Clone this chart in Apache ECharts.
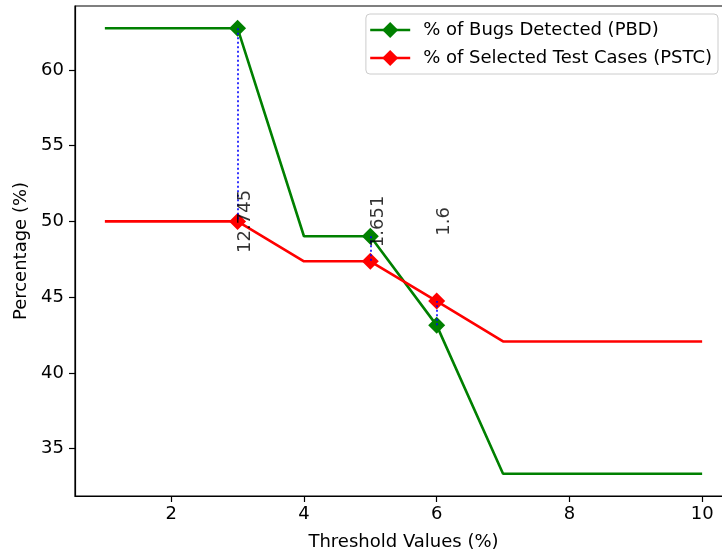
<!DOCTYPE html>
<html>
<head>
<meta charset="utf-8">
<script src="https://cdn.jsdelivr.net/npm/echarts@6/dist/echarts.min.js"></script>
<style>
  html, body { margin: 0; padding: 0; background: #ffffff; width: 722px; height: 556px; overflow: hidden; }
  #chart { width: 742px; height: 556px; }
</style>
</head>
<body>
<div id="chart"></div>
<script>
// Threshold values on the x axis
const thresholds = [1, 2, 3, 4, 5, 6, 7, 8, 9, 10];
// % of bugs detected (PBD)
const pbdValues = [62.745, 62.745, 62.745, 49.021, 49.021, 43.14, 33.35, 33.35, 33.35, 33.35];
// % of selected test cases (PSTC)
const pstcValues = [50, 50, 50, 47.37, 47.37, 44.74, 42.08, 42.08, 42.08, 42.08];
// thresholds that carry a marker and a gap annotation
const markedThresholds = [3, 5, 6];
// tick labels
const xTicks = [2, 4, 6, 8, 10];
const yTicks = [35, 40, 45, 50, 55, 60];
// height at which the gap annotations are centred
const annotY = 50;

const FONT = 'DejaVu Sans';
const FS = 18;

function seriesData(values) {
  return thresholds.map((x, i) => {
    const item = { value: [x, values[i]] };
    if (!markedThresholds.includes(x)) item.symbol = 'none';
    return item;
  });
}

const gapLines = markedThresholds.map(x => {
  const i = thresholds.indexOf(x);
  return [{ coord: [x, pbdValues[i]] }, { coord: [x, pstcValues[i]] }];
});

const gapLabels = markedThresholds.map(x => {
  const i = thresholds.indexOf(x);
  const d = Math.abs(pbdValues[i] - pstcValues[i]);
  return { value: [x, annotY], text: String(parseFloat(d.toFixed(3))) };
});

// axis ranges with 5% padding around the data
const allY = pbdValues.concat(pstcValues);
const yLo = Math.min(...allY), yHi = Math.max(...allY);
const yPad = (yHi - yLo) * 0.05;
const xLo = thresholds[0], xHi = thresholds[thresholds.length - 1];
const xPad = (xHi - xLo) * 0.05;

const chart = echarts.init(document.getElementById('chart'), null, { renderer: 'canvas' });

const axisLineStyle = { color: '#000000', width: 1.2 };

chart.setOption({
  animation: false,
  backgroundColor: '#ffffff',
  textStyle: { fontFamily: FONT },
  grid: {
    left: 75, right: 10, top: 6, bottom: 60,
    show: true, borderColor: '#000000', borderWidth: 1.2,
    backgroundColor: 'transparent'
  },
  legend: {
    right: 24, top: 14,
    orient: 'vertical',
    align: 'left',
    itemWidth: 40, itemHeight: 20, itemGap: 10,
    padding: [7, 6, 7, 3],
    backgroundColor: 'rgba(255,255,255,0.8)',
    borderColor: '#cccccc', borderWidth: 1, borderRadius: 4,
    lineStyle: { width: 2.6 },
    textStyle: { fontFamily: FONT, fontSize: FS, color: '#000000', padding: [0, 0, 0, 8] },
    data: ['% of Bugs Detected (PBD)', '% of Selected Test Cases (PSTC)']
  },
  xAxis: {
    type: 'value',
    min: xLo - xPad, max: xHi + xPad,
    name: 'Threshold Values (%)',
    nameLocation: 'middle', nameGap: 37,
    nameTextStyle: { fontFamily: FONT, fontSize: FS, color: '#000000' },
    axisLine: { show: true, lineStyle: axisLineStyle },
    axisTick: { show: true, length: 6, customValues: xTicks, lineStyle: axisLineStyle },
    axisLabel: { customValues: xTicks, margin: 9, fontFamily: FONT, fontSize: FS, color: '#000000' },
    splitLine: { show: false }
  },
  yAxis: {
    type: 'value',
    min: yLo - yPad, max: yHi + yPad,
    name: 'Percentage (%)',
    nameLocation: 'middle', nameGap: 41, nameRotate: 90,
    nameTextStyle: { fontFamily: FONT, fontSize: FS, color: '#000000' },
    axisLine: { show: true, lineStyle: axisLineStyle },
    axisTick: { show: true, length: 6, customValues: yTicks, lineStyle: axisLineStyle },
    axisLabel: { customValues: yTicks, margin: 11, fontFamily: FONT, fontSize: FS, color: '#000000' },
    splitLine: { show: false }
  },
  series: [
    {
      name: '% of Bugs Detected (PBD)',
      type: 'line',
      data: seriesData(pbdValues),
      symbol: 'diamond', symbolSize: 17, showAllSymbol: true,
      lineStyle: { color: '#008000', width: 2.6 },
      itemStyle: { color: '#008000', borderWidth: 0 },
      z: 2
    },
    {
      name: '% of Selected Test Cases (PSTC)',
      type: 'line',
      data: seriesData(pstcValues),
      symbol: 'diamond', symbolSize: 17, showAllSymbol: true,
      lineStyle: { color: '#ff0000', width: 2.6 },
      itemStyle: { color: '#ff0000', borderWidth: 0 },
      z: 3,
      markLine: {
        silent: true,
        symbol: ['none', 'none'],
        label: { show: false },
        lineStyle: { color: '#0000ff', type: [2, 2.5], width: 1.6 },
        data: gapLines
      }
    },
    {
      type: 'scatter',
      data: gapLabels,
      symbolSize: 0,
      silent: true,
      z: 5,
      label: {
        show: true,
        position: 'inside',
        offset: [0, 8],
        rotate: 90,
        fontFamily: FONT, fontSize: FS, color: '#000000',
        textBorderWidth: 0,
        formatter: p => p.data.text
      }
    }
  ]
});
</script>
</body>
</html>
